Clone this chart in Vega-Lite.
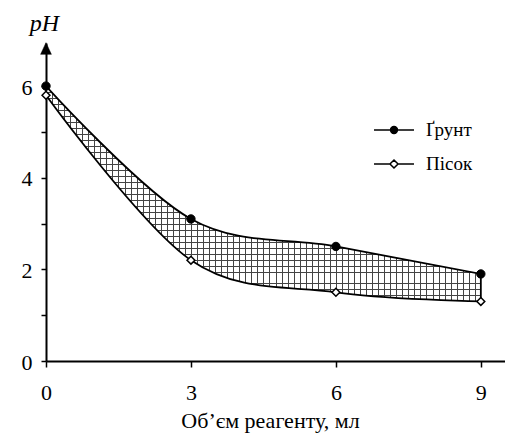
{
  "$schema": "https://vega.github.io/schema/vega-lite/v6.json",
  "width": 459,
  "height": 318,
  "autosize": {"type": "none"},
  "padding": {"left": 46, "top": 43, "right": 0, "bottom": 72},
  "background": "white",
  "config": {
    "view": {"stroke": null},
    "font": "Liberation Serif",
    "axis": {"domainColor": "black", "tickColor": "black", "domainWidth": 2}
  },
  "datasets": {
    "curves": [
      {"v": 0, "g": 6.0, "p": 5.8},
      {"v": 3, "g": 3.1, "p": 2.2},
      {"v": 6, "g": 2.5, "p": 1.5},
      {"v": 9, "g": 1.9, "p": 1.3}
    ],
    "series": [{"s": "Ґрунт"}, {"s": "Пісок"}]
  },
  "layer": [
    {
      "data": {"name": "curves"},
      "mark": {"type": "area", "interpolate": "cardinal", "opacity": 1,
        "fill": {"gradient": "linear", "x1": 0, "y1": 0, "x2": 1, "y2": 0, "stops": [
          {"offset": 0, "color": "#fff"},
          {"offset": 0.0139, "color": "#fff"}, {"offset": 0.0139, "color": "#444"}, {"offset": 0.0162, "color": "#444"}, {"offset": 0.0162, "color": "#fff"},
          {"offset": 0.0278, "color": "#fff"}, {"offset": 0.0278, "color": "#444"}, {"offset": 0.0301, "color": "#444"}, {"offset": 0.0301, "color": "#fff"},
          {"offset": 0.0417, "color": "#fff"}, {"offset": 0.0417, "color": "#444"}, {"offset": 0.044, "color": "#444"}, {"offset": 0.044, "color": "#fff"},
          {"offset": 0.0556, "color": "#fff"}, {"offset": 0.0556, "color": "#444"}, {"offset": 0.0579, "color": "#444"}, {"offset": 0.0579, "color": "#fff"},
          {"offset": 0.0694, "color": "#fff"}, {"offset": 0.0694, "color": "#444"}, {"offset": 0.0717, "color": "#444"}, {"offset": 0.0717, "color": "#fff"},
          {"offset": 0.0833, "color": "#fff"}, {"offset": 0.0833, "color": "#444"}, {"offset": 0.0856, "color": "#444"}, {"offset": 0.0856, "color": "#fff"},
          {"offset": 0.0972, "color": "#fff"}, {"offset": 0.0972, "color": "#444"}, {"offset": 0.0995, "color": "#444"}, {"offset": 0.0995, "color": "#fff"},
          {"offset": 0.1111, "color": "#fff"}, {"offset": 0.1111, "color": "#444"}, {"offset": 0.1134, "color": "#444"}, {"offset": 0.1134, "color": "#fff"},
          {"offset": 0.125, "color": "#fff"}, {"offset": 0.125, "color": "#444"}, {"offset": 0.1273, "color": "#444"}, {"offset": 0.1273, "color": "#fff"},
          {"offset": 0.1389, "color": "#fff"}, {"offset": 0.1389, "color": "#444"}, {"offset": 0.1412, "color": "#444"}, {"offset": 0.1412, "color": "#fff"},
          {"offset": 0.1528, "color": "#fff"}, {"offset": 0.1528, "color": "#444"}, {"offset": 0.1551, "color": "#444"}, {"offset": 0.1551, "color": "#fff"},
          {"offset": 0.1667, "color": "#fff"}, {"offset": 0.1667, "color": "#444"}, {"offset": 0.169, "color": "#444"}, {"offset": 0.169, "color": "#fff"},
          {"offset": 0.1806, "color": "#fff"}, {"offset": 0.1806, "color": "#444"}, {"offset": 0.1829, "color": "#444"}, {"offset": 0.1829, "color": "#fff"},
          {"offset": 0.1944, "color": "#fff"}, {"offset": 0.1944, "color": "#444"}, {"offset": 0.1967, "color": "#444"}, {"offset": 0.1967, "color": "#fff"},
          {"offset": 0.2083, "color": "#fff"}, {"offset": 0.2083, "color": "#444"}, {"offset": 0.2106, "color": "#444"}, {"offset": 0.2106, "color": "#fff"},
          {"offset": 0.2222, "color": "#fff"}, {"offset": 0.2222, "color": "#444"}, {"offset": 0.2245, "color": "#444"}, {"offset": 0.2245, "color": "#fff"},
          {"offset": 0.2361, "color": "#fff"}, {"offset": 0.2361, "color": "#444"}, {"offset": 0.2384, "color": "#444"}, {"offset": 0.2384, "color": "#fff"},
          {"offset": 0.25, "color": "#fff"}, {"offset": 0.25, "color": "#444"}, {"offset": 0.2523, "color": "#444"}, {"offset": 0.2523, "color": "#fff"},
          {"offset": 0.2639, "color": "#fff"}, {"offset": 0.2639, "color": "#444"}, {"offset": 0.2662, "color": "#444"}, {"offset": 0.2662, "color": "#fff"},
          {"offset": 0.2778, "color": "#fff"}, {"offset": 0.2778, "color": "#444"}, {"offset": 0.2801, "color": "#444"}, {"offset": 0.2801, "color": "#fff"},
          {"offset": 0.2917, "color": "#fff"}, {"offset": 0.2917, "color": "#444"}, {"offset": 0.294, "color": "#444"}, {"offset": 0.294, "color": "#fff"},
          {"offset": 0.3056, "color": "#fff"}, {"offset": 0.3056, "color": "#444"}, {"offset": 0.3079, "color": "#444"}, {"offset": 0.3079, "color": "#fff"},
          {"offset": 0.3194, "color": "#fff"}, {"offset": 0.3194, "color": "#444"}, {"offset": 0.3217, "color": "#444"}, {"offset": 0.3217, "color": "#fff"},
          {"offset": 0.3333, "color": "#fff"}, {"offset": 0.3333, "color": "#444"}, {"offset": 0.3356, "color": "#444"}, {"offset": 0.3356, "color": "#fff"},
          {"offset": 0.3472, "color": "#fff"}, {"offset": 0.3472, "color": "#444"}, {"offset": 0.3495, "color": "#444"}, {"offset": 0.3495, "color": "#fff"},
          {"offset": 0.3611, "color": "#fff"}, {"offset": 0.3611, "color": "#444"}, {"offset": 0.3634, "color": "#444"}, {"offset": 0.3634, "color": "#fff"},
          {"offset": 0.375, "color": "#fff"}, {"offset": 0.375, "color": "#444"}, {"offset": 0.3773, "color": "#444"}, {"offset": 0.3773, "color": "#fff"},
          {"offset": 0.3889, "color": "#fff"}, {"offset": 0.3889, "color": "#444"}, {"offset": 0.3912, "color": "#444"}, {"offset": 0.3912, "color": "#fff"},
          {"offset": 0.4028, "color": "#fff"}, {"offset": 0.4028, "color": "#444"}, {"offset": 0.4051, "color": "#444"}, {"offset": 0.4051, "color": "#fff"},
          {"offset": 0.4167, "color": "#fff"}, {"offset": 0.4167, "color": "#444"}, {"offset": 0.419, "color": "#444"}, {"offset": 0.419, "color": "#fff"},
          {"offset": 0.4306, "color": "#fff"}, {"offset": 0.4306, "color": "#444"}, {"offset": 0.4329, "color": "#444"}, {"offset": 0.4329, "color": "#fff"},
          {"offset": 0.4444, "color": "#fff"}, {"offset": 0.4444, "color": "#444"}, {"offset": 0.4467, "color": "#444"}, {"offset": 0.4467, "color": "#fff"},
          {"offset": 0.4583, "color": "#fff"}, {"offset": 0.4583, "color": "#444"}, {"offset": 0.4606, "color": "#444"}, {"offset": 0.4606, "color": "#fff"},
          {"offset": 0.4722, "color": "#fff"}, {"offset": 0.4722, "color": "#444"}, {"offset": 0.4745, "color": "#444"}, {"offset": 0.4745, "color": "#fff"},
          {"offset": 0.4861, "color": "#fff"}, {"offset": 0.4861, "color": "#444"}, {"offset": 0.4884, "color": "#444"}, {"offset": 0.4884, "color": "#fff"},
          {"offset": 0.5, "color": "#fff"}, {"offset": 0.5, "color": "#444"}, {"offset": 0.5023, "color": "#444"}, {"offset": 0.5023, "color": "#fff"},
          {"offset": 0.5139, "color": "#fff"}, {"offset": 0.5139, "color": "#444"}, {"offset": 0.5162, "color": "#444"}, {"offset": 0.5162, "color": "#fff"},
          {"offset": 0.5278, "color": "#fff"}, {"offset": 0.5278, "color": "#444"}, {"offset": 0.5301, "color": "#444"}, {"offset": 0.5301, "color": "#fff"},
          {"offset": 0.5417, "color": "#fff"}, {"offset": 0.5417, "color": "#444"}, {"offset": 0.544, "color": "#444"}, {"offset": 0.544, "color": "#fff"},
          {"offset": 0.5556, "color": "#fff"}, {"offset": 0.5556, "color": "#444"}, {"offset": 0.5579, "color": "#444"}, {"offset": 0.5579, "color": "#fff"},
          {"offset": 0.5694, "color": "#fff"}, {"offset": 0.5694, "color": "#444"}, {"offset": 0.5717, "color": "#444"}, {"offset": 0.5717, "color": "#fff"},
          {"offset": 0.5833, "color": "#fff"}, {"offset": 0.5833, "color": "#444"}, {"offset": 0.5856, "color": "#444"}, {"offset": 0.5856, "color": "#fff"},
          {"offset": 0.5972, "color": "#fff"}, {"offset": 0.5972, "color": "#444"}, {"offset": 0.5995, "color": "#444"}, {"offset": 0.5995, "color": "#fff"},
          {"offset": 0.6111, "color": "#fff"}, {"offset": 0.6111, "color": "#444"}, {"offset": 0.6134, "color": "#444"}, {"offset": 0.6134, "color": "#fff"},
          {"offset": 0.625, "color": "#fff"}, {"offset": 0.625, "color": "#444"}, {"offset": 0.6273, "color": "#444"}, {"offset": 0.6273, "color": "#fff"},
          {"offset": 0.6389, "color": "#fff"}, {"offset": 0.6389, "color": "#444"}, {"offset": 0.6412, "color": "#444"}, {"offset": 0.6412, "color": "#fff"},
          {"offset": 0.6528, "color": "#fff"}, {"offset": 0.6528, "color": "#444"}, {"offset": 0.6551, "color": "#444"}, {"offset": 0.6551, "color": "#fff"},
          {"offset": 0.6667, "color": "#fff"}, {"offset": 0.6667, "color": "#444"}, {"offset": 0.669, "color": "#444"}, {"offset": 0.669, "color": "#fff"},
          {"offset": 0.6806, "color": "#fff"}, {"offset": 0.6806, "color": "#444"}, {"offset": 0.6829, "color": "#444"}, {"offset": 0.6829, "color": "#fff"},
          {"offset": 0.6944, "color": "#fff"}, {"offset": 0.6944, "color": "#444"}, {"offset": 0.6967, "color": "#444"}, {"offset": 0.6967, "color": "#fff"},
          {"offset": 0.7083, "color": "#fff"}, {"offset": 0.7083, "color": "#444"}, {"offset": 0.7106, "color": "#444"}, {"offset": 0.7106, "color": "#fff"},
          {"offset": 0.7222, "color": "#fff"}, {"offset": 0.7222, "color": "#444"}, {"offset": 0.7245, "color": "#444"}, {"offset": 0.7245, "color": "#fff"},
          {"offset": 0.7361, "color": "#fff"}, {"offset": 0.7361, "color": "#444"}, {"offset": 0.7384, "color": "#444"}, {"offset": 0.7384, "color": "#fff"},
          {"offset": 0.75, "color": "#fff"}, {"offset": 0.75, "color": "#444"}, {"offset": 0.7523, "color": "#444"}, {"offset": 0.7523, "color": "#fff"},
          {"offset": 0.7639, "color": "#fff"}, {"offset": 0.7639, "color": "#444"}, {"offset": 0.7662, "color": "#444"}, {"offset": 0.7662, "color": "#fff"},
          {"offset": 0.7778, "color": "#fff"}, {"offset": 0.7778, "color": "#444"}, {"offset": 0.7801, "color": "#444"}, {"offset": 0.7801, "color": "#fff"},
          {"offset": 0.7917, "color": "#fff"}, {"offset": 0.7917, "color": "#444"}, {"offset": 0.794, "color": "#444"}, {"offset": 0.794, "color": "#fff"},
          {"offset": 0.8056, "color": "#fff"}, {"offset": 0.8056, "color": "#444"}, {"offset": 0.8079, "color": "#444"}, {"offset": 0.8079, "color": "#fff"},
          {"offset": 0.8194, "color": "#fff"}, {"offset": 0.8194, "color": "#444"}, {"offset": 0.8217, "color": "#444"}, {"offset": 0.8217, "color": "#fff"},
          {"offset": 0.8333, "color": "#fff"}, {"offset": 0.8333, "color": "#444"}, {"offset": 0.8356, "color": "#444"}, {"offset": 0.8356, "color": "#fff"},
          {"offset": 0.8472, "color": "#fff"}, {"offset": 0.8472, "color": "#444"}, {"offset": 0.8495, "color": "#444"}, {"offset": 0.8495, "color": "#fff"},
          {"offset": 0.8611, "color": "#fff"}, {"offset": 0.8611, "color": "#444"}, {"offset": 0.8634, "color": "#444"}, {"offset": 0.8634, "color": "#fff"},
          {"offset": 0.875, "color": "#fff"}, {"offset": 0.875, "color": "#444"}, {"offset": 0.8773, "color": "#444"}, {"offset": 0.8773, "color": "#fff"},
          {"offset": 0.8889, "color": "#fff"}, {"offset": 0.8889, "color": "#444"}, {"offset": 0.8912, "color": "#444"}, {"offset": 0.8912, "color": "#fff"},
          {"offset": 0.9028, "color": "#fff"}, {"offset": 0.9028, "color": "#444"}, {"offset": 0.9051, "color": "#444"}, {"offset": 0.9051, "color": "#fff"},
          {"offset": 0.9167, "color": "#fff"}, {"offset": 0.9167, "color": "#444"}, {"offset": 0.919, "color": "#444"}, {"offset": 0.919, "color": "#fff"},
          {"offset": 0.9306, "color": "#fff"}, {"offset": 0.9306, "color": "#444"}, {"offset": 0.9329, "color": "#444"}, {"offset": 0.9329, "color": "#fff"},
          {"offset": 0.9444, "color": "#fff"}, {"offset": 0.9444, "color": "#444"}, {"offset": 0.9467, "color": "#444"}, {"offset": 0.9467, "color": "#fff"},
          {"offset": 0.9583, "color": "#fff"}, {"offset": 0.9583, "color": "#444"}, {"offset": 0.9606, "color": "#444"}, {"offset": 0.9606, "color": "#fff"},
          {"offset": 0.9722, "color": "#fff"}, {"offset": 0.9722, "color": "#444"}, {"offset": 0.9745, "color": "#444"}, {"offset": 0.9745, "color": "#fff"},
          {"offset": 0.9861, "color": "#fff"}, {"offset": 0.9861, "color": "#444"}, {"offset": 0.9884, "color": "#444"}, {"offset": 0.9884, "color": "#fff"},
          {"offset": 1, "color": "#fff"}
        ]}},
      "encoding": {
        "x": {"field": "v", "type": "quantitative", "scale": {"domain": [0, 9.5], "nice": false},
          "axis": {"values": [0, 3, 6, 9], "grid": false, "domainColor": "black", "domainWidth": 2, "tickColor": "black", "tickWidth": 1.5, "tickSize": 6, "labelFlush": false, "labelColor": "black", "labelFont": "Liberation Serif", "labelFontSize": 22, "labelPadding": 32, "labelBaseline": "alphabetic", "title": "Об’єм реагенту, мл", "titleFont": "Liberation Serif", "titleFontSize": 22, "titleFontWeight": "normal", "titleColor": "black", "titleX": 224, "titleY": 66, "titleAlign": "center", "titleBaseline": "alphabetic"}},
        "y": {"field": "g", "type": "quantitative", "scale": {"domain": [0, 6.94], "nice": false},
          "axis": {"values": [0, 1, 2, 3, 4, 5, 6], "labelExpr": "datum.value % 2 == 0 ? datum.label : ''", "grid": false, "domainColor": "black", "domainWidth": 2, "tickColor": "black", "tickWidth": 1.5, "tickSize": 5, "labelFlush": false, "labelColor": "black", "labelFont": "Liberation Serif", "labelFontSize": 22, "labelPadding": 9, "labelOffset": 1, "title": "pH", "titleAngle": 0, "titleAlign": "center", "titleX": -2, "titleY": -13, "titleBaseline": "alphabetic", "titleFont": "Liberation Serif", "titleFontStyle": "italic", "titleFontWeight": "normal", "titleColor": "black", "titleFontSize": 24}},
        "y2": {"field": "p"}
      }
    },
    {
      "data": {"name": "curves"},
      "mark": {"type": "area", "interpolate": "cardinal", "stroke": "black", "strokeWidth": 1.8, "opacity": 1,
        "fill": {"gradient": "linear", "x1": 0, "y1": 0, "x2": 0, "y2": 1, "stops": [
          {"offset": 0, "color": "rgba(0,0,0,0)"},
          {"offset": 0.0278, "color": "rgba(0,0,0,0)"}, {"offset": 0.0278, "color": "#444"}, {"offset": 0.0324, "color": "#444"}, {"offset": 0.0324, "color": "rgba(0,0,0,0)"},
          {"offset": 0.0556, "color": "rgba(0,0,0,0)"}, {"offset": 0.0556, "color": "#444"}, {"offset": 0.0602, "color": "#444"}, {"offset": 0.0602, "color": "rgba(0,0,0,0)"},
          {"offset": 0.0833, "color": "rgba(0,0,0,0)"}, {"offset": 0.0833, "color": "#444"}, {"offset": 0.0879, "color": "#444"}, {"offset": 0.0879, "color": "rgba(0,0,0,0)"},
          {"offset": 0.1111, "color": "rgba(0,0,0,0)"}, {"offset": 0.1111, "color": "#444"}, {"offset": 0.1157, "color": "#444"}, {"offset": 0.1157, "color": "rgba(0,0,0,0)"},
          {"offset": 0.1389, "color": "rgba(0,0,0,0)"}, {"offset": 0.1389, "color": "#444"}, {"offset": 0.1435, "color": "#444"}, {"offset": 0.1435, "color": "rgba(0,0,0,0)"},
          {"offset": 0.1667, "color": "rgba(0,0,0,0)"}, {"offset": 0.1667, "color": "#444"}, {"offset": 0.1713, "color": "#444"}, {"offset": 0.1713, "color": "rgba(0,0,0,0)"},
          {"offset": 0.1944, "color": "rgba(0,0,0,0)"}, {"offset": 0.1944, "color": "#444"}, {"offset": 0.199, "color": "#444"}, {"offset": 0.199, "color": "rgba(0,0,0,0)"},
          {"offset": 0.2222, "color": "rgba(0,0,0,0)"}, {"offset": 0.2222, "color": "#444"}, {"offset": 0.2268, "color": "#444"}, {"offset": 0.2268, "color": "rgba(0,0,0,0)"},
          {"offset": 0.25, "color": "rgba(0,0,0,0)"}, {"offset": 0.25, "color": "#444"}, {"offset": 0.2546, "color": "#444"}, {"offset": 0.2546, "color": "rgba(0,0,0,0)"},
          {"offset": 0.2778, "color": "rgba(0,0,0,0)"}, {"offset": 0.2778, "color": "#444"}, {"offset": 0.2824, "color": "#444"}, {"offset": 0.2824, "color": "rgba(0,0,0,0)"},
          {"offset": 0.3056, "color": "rgba(0,0,0,0)"}, {"offset": 0.3056, "color": "#444"}, {"offset": 0.3102, "color": "#444"}, {"offset": 0.3102, "color": "rgba(0,0,0,0)"},
          {"offset": 0.3333, "color": "rgba(0,0,0,0)"}, {"offset": 0.3333, "color": "#444"}, {"offset": 0.3379, "color": "#444"}, {"offset": 0.3379, "color": "rgba(0,0,0,0)"},
          {"offset": 0.3611, "color": "rgba(0,0,0,0)"}, {"offset": 0.3611, "color": "#444"}, {"offset": 0.3657, "color": "#444"}, {"offset": 0.3657, "color": "rgba(0,0,0,0)"},
          {"offset": 0.3889, "color": "rgba(0,0,0,0)"}, {"offset": 0.3889, "color": "#444"}, {"offset": 0.3935, "color": "#444"}, {"offset": 0.3935, "color": "rgba(0,0,0,0)"},
          {"offset": 0.4167, "color": "rgba(0,0,0,0)"}, {"offset": 0.4167, "color": "#444"}, {"offset": 0.4213, "color": "#444"}, {"offset": 0.4213, "color": "rgba(0,0,0,0)"},
          {"offset": 0.4444, "color": "rgba(0,0,0,0)"}, {"offset": 0.4444, "color": "#444"}, {"offset": 0.449, "color": "#444"}, {"offset": 0.449, "color": "rgba(0,0,0,0)"},
          {"offset": 0.4722, "color": "rgba(0,0,0,0)"}, {"offset": 0.4722, "color": "#444"}, {"offset": 0.4768, "color": "#444"}, {"offset": 0.4768, "color": "rgba(0,0,0,0)"},
          {"offset": 0.5, "color": "rgba(0,0,0,0)"}, {"offset": 0.5, "color": "#444"}, {"offset": 0.5046, "color": "#444"}, {"offset": 0.5046, "color": "rgba(0,0,0,0)"},
          {"offset": 0.5278, "color": "rgba(0,0,0,0)"}, {"offset": 0.5278, "color": "#444"}, {"offset": 0.5324, "color": "#444"}, {"offset": 0.5324, "color": "rgba(0,0,0,0)"},
          {"offset": 0.5556, "color": "rgba(0,0,0,0)"}, {"offset": 0.5556, "color": "#444"}, {"offset": 0.5602, "color": "#444"}, {"offset": 0.5602, "color": "rgba(0,0,0,0)"},
          {"offset": 0.5833, "color": "rgba(0,0,0,0)"}, {"offset": 0.5833, "color": "#444"}, {"offset": 0.5879, "color": "#444"}, {"offset": 0.5879, "color": "rgba(0,0,0,0)"},
          {"offset": 0.6111, "color": "rgba(0,0,0,0)"}, {"offset": 0.6111, "color": "#444"}, {"offset": 0.6157, "color": "#444"}, {"offset": 0.6157, "color": "rgba(0,0,0,0)"},
          {"offset": 0.6389, "color": "rgba(0,0,0,0)"}, {"offset": 0.6389, "color": "#444"}, {"offset": 0.6435, "color": "#444"}, {"offset": 0.6435, "color": "rgba(0,0,0,0)"},
          {"offset": 0.6667, "color": "rgba(0,0,0,0)"}, {"offset": 0.6667, "color": "#444"}, {"offset": 0.6713, "color": "#444"}, {"offset": 0.6713, "color": "rgba(0,0,0,0)"},
          {"offset": 0.6944, "color": "rgba(0,0,0,0)"}, {"offset": 0.6944, "color": "#444"}, {"offset": 0.699, "color": "#444"}, {"offset": 0.699, "color": "rgba(0,0,0,0)"},
          {"offset": 0.7222, "color": "rgba(0,0,0,0)"}, {"offset": 0.7222, "color": "#444"}, {"offset": 0.7268, "color": "#444"}, {"offset": 0.7268, "color": "rgba(0,0,0,0)"},
          {"offset": 0.75, "color": "rgba(0,0,0,0)"}, {"offset": 0.75, "color": "#444"}, {"offset": 0.7546, "color": "#444"}, {"offset": 0.7546, "color": "rgba(0,0,0,0)"},
          {"offset": 0.7778, "color": "rgba(0,0,0,0)"}, {"offset": 0.7778, "color": "#444"}, {"offset": 0.7824, "color": "#444"}, {"offset": 0.7824, "color": "rgba(0,0,0,0)"},
          {"offset": 0.8056, "color": "rgba(0,0,0,0)"}, {"offset": 0.8056, "color": "#444"}, {"offset": 0.8102, "color": "#444"}, {"offset": 0.8102, "color": "rgba(0,0,0,0)"},
          {"offset": 0.8333, "color": "rgba(0,0,0,0)"}, {"offset": 0.8333, "color": "#444"}, {"offset": 0.8379, "color": "#444"}, {"offset": 0.8379, "color": "rgba(0,0,0,0)"},
          {"offset": 0.8611, "color": "rgba(0,0,0,0)"}, {"offset": 0.8611, "color": "#444"}, {"offset": 0.8657, "color": "#444"}, {"offset": 0.8657, "color": "rgba(0,0,0,0)"},
          {"offset": 0.8889, "color": "rgba(0,0,0,0)"}, {"offset": 0.8889, "color": "#444"}, {"offset": 0.8935, "color": "#444"}, {"offset": 0.8935, "color": "rgba(0,0,0,0)"},
          {"offset": 0.9167, "color": "rgba(0,0,0,0)"}, {"offset": 0.9167, "color": "#444"}, {"offset": 0.9213, "color": "#444"}, {"offset": 0.9213, "color": "rgba(0,0,0,0)"},
          {"offset": 0.9444, "color": "rgba(0,0,0,0)"}, {"offset": 0.9444, "color": "#444"}, {"offset": 0.949, "color": "#444"}, {"offset": 0.949, "color": "rgba(0,0,0,0)"},
          {"offset": 0.9722, "color": "rgba(0,0,0,0)"}, {"offset": 0.9722, "color": "#444"}, {"offset": 0.9768, "color": "#444"}, {"offset": 0.9768, "color": "rgba(0,0,0,0)"},
          {"offset": 1, "color": "rgba(0,0,0,0)"}
        ]}},
      "encoding": {
        "x": {"field": "v", "type": "quantitative"},
        "y": {"field": "g", "type": "quantitative"},
        "y2": {"field": "p"}
      }
    },
    {
      "data": {"name": "curves"},
      "mark": {"type": "point", "shape": "circle", "filled": true, "fill": "black", "stroke": "black", "strokeWidth": 1, "size": 70, "opacity": 1},
      "encoding": {
        "x": {"field": "v", "type": "quantitative"},
        "y": {"field": "g", "type": "quantitative"}
      }
    },
    {
      "data": {"name": "curves"},
      "mark": {"type": "point", "shape": "diamond", "filled": true, "fill": "white", "stroke": "black", "strokeWidth": 1.5, "size": 62, "opacity": 1},
      "encoding": {
        "x": {"field": "v", "type": "quantitative"},
        "y": {"field": "p", "type": "quantitative"}
      }
    },
    {
      "data": {"values": [{}]},
      "mark": {"type": "point", "shape": "M0,-1L-0.92,1L0.92,1Z", "filled": true, "fill": "black", "stroke": "black", "strokeWidth": 0.5, "size": 137, "opacity": 1},
      "encoding": {
        "x": {"datum": 0},
        "y": {"datum": 6.82}
      }
    },
    {
      "data": {"name": "series"},
      "transform": [{"filter": "false"}],
      "mark": {"type": "point", "filled": true, "strokeWidth": 1.5, "opacity": 1},
      "encoding": {
        "shape": {"field": "s", "type": "nominal",
          "scale": {"domain": ["Ґрунт", "Пісок"], "range": ["M-1.333,0H-0.23M0.23,0H1.333M-0.23,0A0.23,0.23,0,1,1,0.23,0A0.23,0.23,0,1,1,-0.23,0Z", "M-1.333,0H-0.27M0.27,0H1.333M0,-0.27L0.27,0L0,0.27L-0.27,0Z"]},
          "legend": {"title": null, "orient": "none", "legendX": 332, "legendY": 71, "symbolSize": 900, "symbolStrokeWidth": 1.5, "labelFont": "Liberation Serif", "labelFontSize": 19, "labelColor": "black", "labelOffset": 16, "rowPadding": 8, "padding": 0, "labelBaseline": "middle"}},
        "fill": {"field": "s", "type": "nominal",
          "scale": {"domain": ["Ґрунт", "Пісок"], "range": ["black", "white"]},
          "legend": {"title": null, "orient": "none", "legendX": 332, "legendY": 71, "symbolSize": 900, "symbolStrokeWidth": 1.5, "labelFont": "Liberation Serif", "labelFontSize": 19, "labelColor": "black", "labelOffset": 16, "rowPadding": 8, "padding": 0, "labelBaseline": "middle"}},
        "stroke": {"field": "s", "type": "nominal",
          "scale": {"domain": ["Ґрунт", "Пісок"], "range": ["black", "black"]},
          "legend": {"title": null, "orient": "none", "legendX": 332, "legendY": 71, "symbolSize": 900, "symbolStrokeWidth": 1.5, "labelFont": "Liberation Serif", "labelFontSize": 19, "labelColor": "black", "labelOffset": 16, "rowPadding": 8, "padding": 0, "labelBaseline": "middle"}}
      }
    }
  ]
}
